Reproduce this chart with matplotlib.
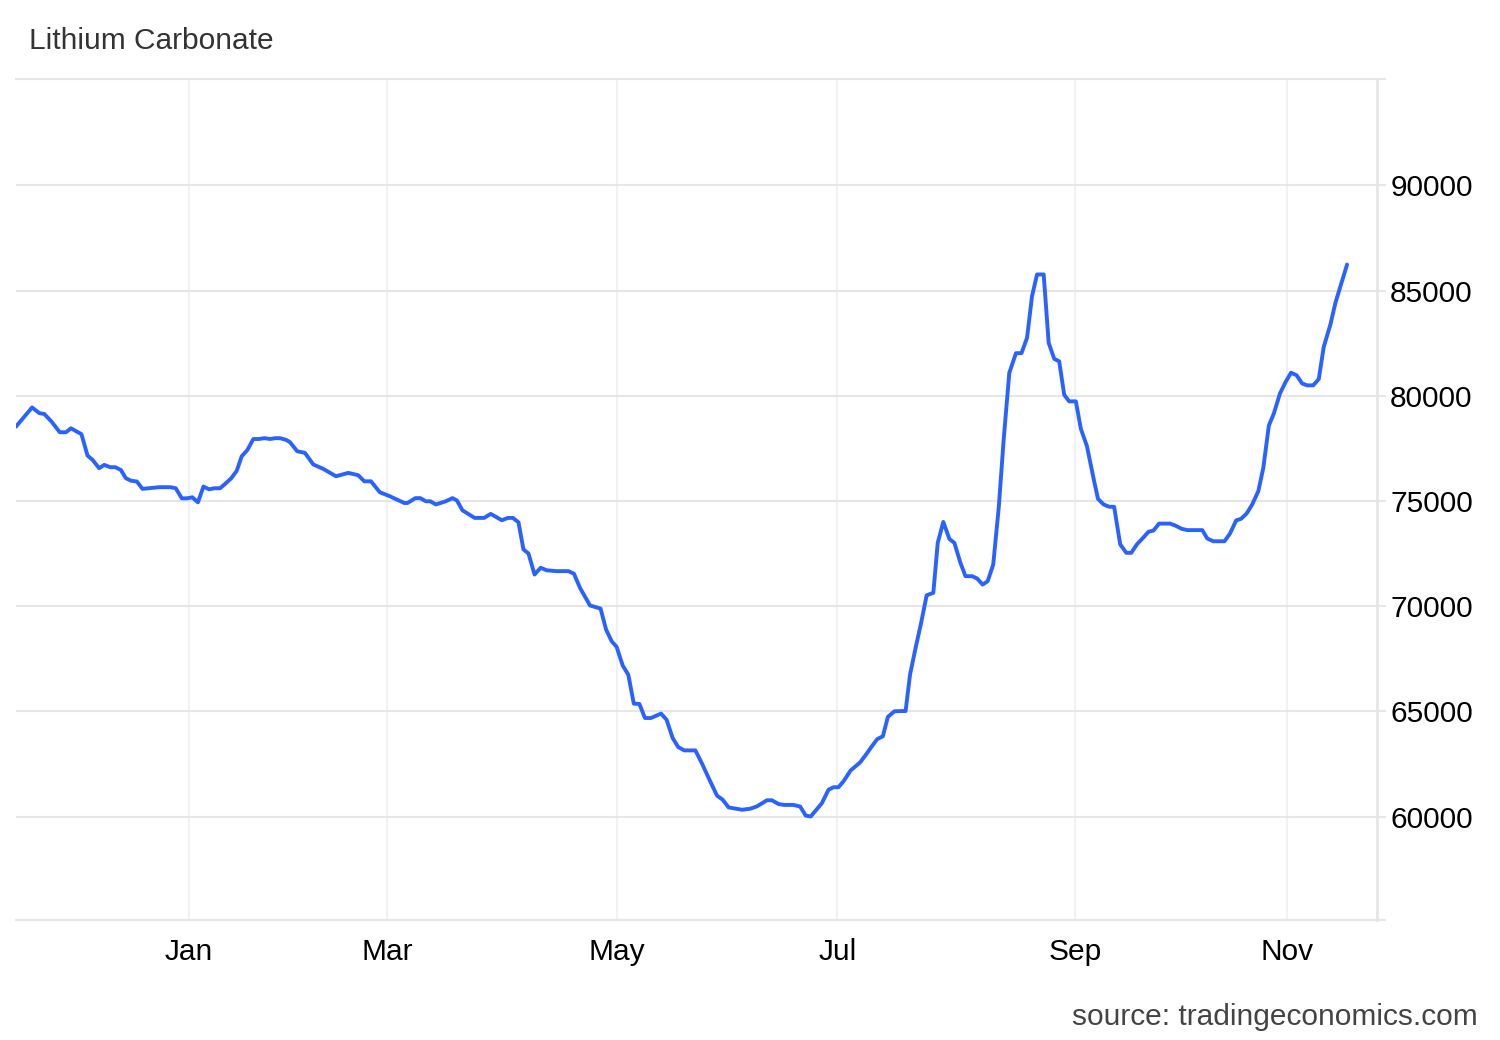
import matplotlib
matplotlib.use("Agg")
import matplotlib.pyplot as plt

plt.rcParams['font.family'] = ['Liberation Sans', 'DejaVu Sans']

# Trading-session position (x) and price (CNY/T) of each vertex of the line
session = [
    0.0, 2.9, 4.2, 5.1, 6.4, 7.9, 9.0, 9.9, 11.8, 12.9, 13.8, 15.0, 15.9, 17.0,
    17.9, 18.9, 19.8, 20.7, 21.8, 22.8, 23.9, 25.8, 27.8, 28.8, 29.9, 30.8,
    31.8, 32.8, 33.8, 34.8, 35.8, 36.8, 37.8, 38.8, 39.8, 40.7, 41.7, 42.8,
    43.8, 44.8, 45.8, 46.8, 47.6, 48.7, 49.4, 50.7, 52.1, 53.6, 55.4, 57.7,
    59.9, 61.7, 62.8, 64.0, 65.6, 67.4, 70.0, 70.6, 72.0, 72.9, 73.9, 74.7,
    75.7, 77.5, 78.7, 79.5, 80.5, 82.7, 84.4, 85.6, 87.6, 88.7, 89.6, 90.6,
    91.5, 92.4, 93.5, 94.6, 95.7, 97.5, 99.6, 100.6, 101.7, 103.5, 105.4,
    106.4, 107.4, 108.3, 109.4, 110.4, 111.4, 112.4, 113.4, 114.5, 116.3,
    117.3, 118.4, 119.4, 120.5, 122.5, 123.7, 125.1, 126.4, 127.4, 128.5,
    130.9, 132.4, 133.6, 135.4, 136.3, 137.5, 138.5, 140.2, 141.4, 142.4,
    143.3, 145.3, 146.5, 147.4, 148.3, 149.2, 150.5, 152.2, 153.4, 154.3,
    155.3, 156.3, 157.2, 158.4, 159.4, 160.4, 161.2, 162.3, 163.2, 164.2,
    165.4, 166.2, 167.2, 168.3, 169.2, 170.3, 171.2, 172.4, 173.3, 174.3,
    175.2, 176.2, 177.2, 178.1, 179.1, 180.3, 181.3, 182.3, 183.2, 184.1,
    185.3, 186.2, 187.2, 188.1, 189.0, 189.9, 191.1, 192.0, 193.1, 194.4,
    195.1, 196.1, 197.1, 198.0, 199.1, 200.2, 201.1, 202.1, 203.1, 204.2,
    205.1, 206.1, 208.1, 209.0, 210.2, 211.2, 213.9, 214.8, 215.9, 217.9,
    218.9, 220.0, 220.9, 221.9, 222.9, 224.0, 224.9, 225.9, 226.8, 227.9,
    228.9, 229.9, 230.9, 231.9, 232.8, 233.9, 234.9, 235.8, 237.0, 237.9,
    239.0, 240.0,
]
price = [
    78540, 79450, 79180, 79140, 78780, 78270, 78270, 78460, 78180, 77160,
    76960, 76560, 76720, 76610, 76610, 76480, 76090, 75970, 75930, 75580,
    75610, 75660, 75660, 75610, 75130, 75130, 75180, 74940, 75690, 75560,
    75610, 75610, 75840, 76080, 76440, 77130, 77420, 77950, 77950, 77990,
    77950, 77990, 77990, 77910, 77800, 77370, 77290, 76740, 76530, 76180,
    76340, 76230, 75940, 75940, 75420, 75230, 74910, 74910, 75140, 75140,
    74990, 74990, 74840, 74990, 75140, 75030, 74560, 74200, 74200, 74390,
    74090, 74200, 74200, 73990, 72700, 72510, 71510, 71830, 71710, 71670,
    71670, 71550, 70870, 70040, 69890, 68890, 68340, 68070, 67180, 66750,
    65370, 65360, 64690, 64690, 64900, 64610, 63740, 63310, 63150, 63150,
    62520, 61720, 61000, 60810, 60440, 60330, 60380, 60490, 60780, 60780,
    60600, 60560, 60560, 60480, 60050, 60010, 60640, 61280, 61400, 61400,
    61680, 62200, 62580, 63000, 63340, 63690, 63820, 64740, 65010, 65020,
    65020, 66750, 68140, 69210, 70520, 70640, 73020, 74010, 73200, 73010,
    72060, 71430, 71430, 71320, 71030, 71190, 71980, 74700, 77970, 81090,
    82030, 82030, 82760, 84740, 85770, 85770, 82520, 81760, 81640, 80050,
    79740, 79740, 78440, 77610, 75940, 75100, 74840, 74730, 74730, 72940,
    72540, 72540, 72940, 73220, 73540, 73600, 73930, 73930, 73840, 73680,
    73620, 73620, 73220, 73090, 73090, 73460, 74080, 74160, 74410, 74840,
    75470, 76580, 78590, 79160, 80110, 80650, 81100, 80980, 80590, 80500,
    80500, 80800, 82330, 83390, 84420, 85370, 86240,
]

month_labels = ["Jan", "Mar", "May", "Jul", "Sep", "Nov"]
month_pos = [31.2, 66.9, 108.4, 148.1, 191.0, 229.2]
y_ticks = [60000, 65000, 70000, 75000, 80000, 85000, 90000]

W, H = 1500, 1040
fig = plt.figure(figsize=(W / 100, H / 100), dpi=100)
ax = fig.add_axes([16 / W, 1 - 920 / H, (1377 - 16) / W, (920 - 79) / H])

ax.plot(session, price, color="#2962ff", lw=2.8,
        solid_joinstyle="round", solid_capstyle="round", zorder=3)

ax.set_xlim(0, 245.4)
ax.set_ylim(55090, 95060)

grid_c = "#e6e6e6"
ax.set_yticks(y_ticks)
ax.set_yticklabels([str(v) for v in y_ticks])
ax.set_yticks([55090, 95060], minor=True)
ax.yaxis.tick_right()
ax.tick_params(axis="y", which="both", length=6.5, width=1.5, color=grid_c,
               labelsize=21.5, labelcolor="black", pad=3)
ax.set_xticks(month_pos)
ax.set_xticklabels(month_labels)
ax.tick_params(axis="x", length=0, labelsize=21.5, labelcolor="black", pad=13)

ax.grid(axis="y", which="major", color=grid_c, lw=1.5, zorder=0)
ax.grid(axis="x", which="major", color="#eef1f5", lw=1.5, zorder=0)

ax.spines["left"].set_visible(False)
for s in ("top", "bottom"):
    ax.spines[s].set_color(grid_c)
    ax.spines[s].set_linewidth(1.5)
ax.spines["right"].set_color(grid_c)
ax.spines["right"].set_linewidth(2)

fig.text(29 / W, 1 - 41 / H, "Lithium Carbonate", fontsize=21.5,
         color="#333333", ha="left", va="center")
fig.text(1478 / W, 1 - 1017 / H, "source: tradingeconomics.com", fontsize=21.5,
         color="#444444", ha="right", va="center")

fig.savefig("out.png", dpi=100)
